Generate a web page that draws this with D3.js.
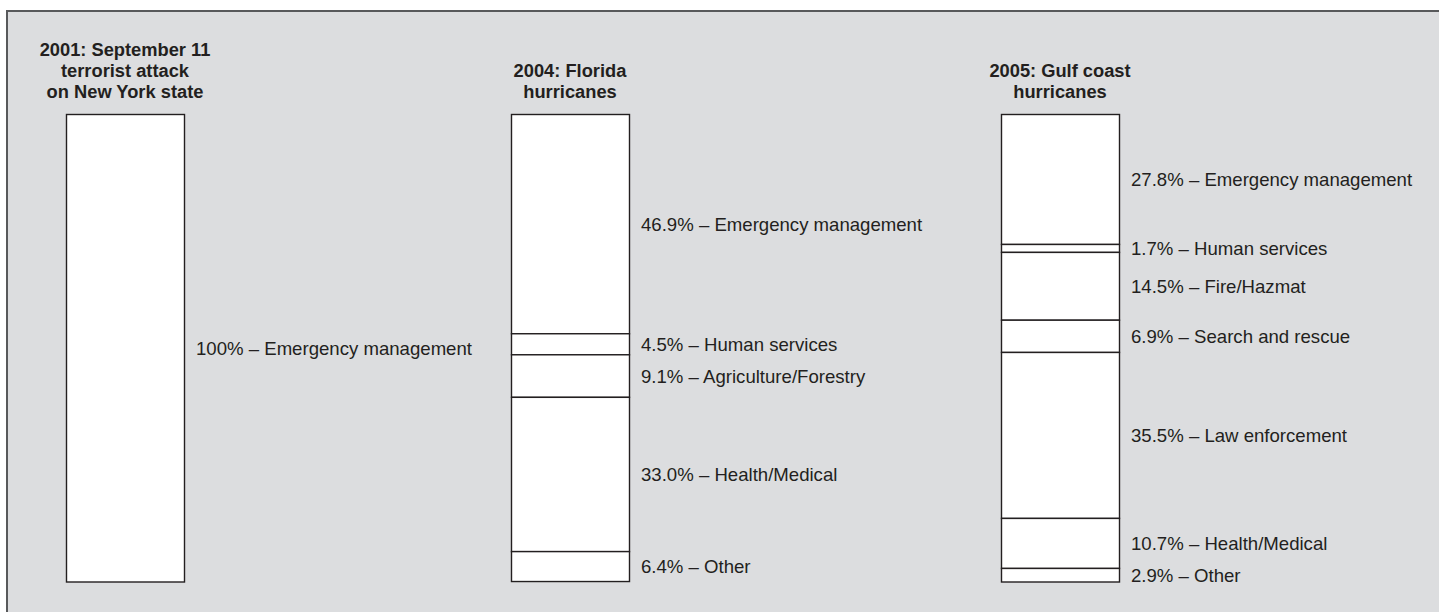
<!DOCTYPE html>
<html lang="en">
    <head>
        <meta charset="UTF-8">
        <script src="https://cdn.jsdelivr.net/npm/d3@7"></script>
        <title>Deployments by function</title>
        <style>
            body { margin: 0; background: #fff; }
            svg text { font-family: "Liberation Sans", Arial, sans-serif; fill: #231f20; }
            .title { font-weight: bold; font-size: 18.3px; }
            .label { font-size: 18.6px; }
        </style>
    </head>
    <body>
        <div id="canvas"></div>

        <script>
            // three events, each one a 100% stacked column
            var events = ['2001', '2004', '2005'];
            var titles = [
                ['2001: September 11', 'terrorist attack', 'on New York state'],
                ['2004: Florida', 'hurricanes'],
                ['2005: Gulf coast', 'hurricanes']
            ];
            var functions2001 = ['Emergency management'];
            var shares2001 = [100];
            var functions2004 = ['Emergency management', 'Human services', 'Agriculture/Forestry', 'Health/Medical', 'Other'];
            var shares2004 = [46.9, 4.5, 9.1, 33.0, 6.4];
            var functions2005 = ['Emergency management', 'Human services', 'Fire/Hazmat', 'Search and rescue', 'Law enforcement', 'Health/Medical', 'Other'];
            var shares2005 = [27.8, 1.7, 14.5, 6.9, 35.5, 10.7, 2.9];
            var shareText2001 = ['100%'];
            var shareText2004 = ['46.9%', '4.5%', '9.1%', '33.0%', '6.4%'];
            var shareText2005 = ['27.8%', '1.7%', '14.5%', '6.9%', '35.5%', '10.7%', '2.9%'];

            var columns = [
                {fn: functions2001, v: shares2001, t: shareText2001},
                {fn: functions2004, v: shares2004, t: shareText2004},
                {fn: functions2005, v: shares2005, t: shareText2005}
            ];

            var W = 1439, H = 612, barW = 118;

            var svg = d3.select('#canvas').append('svg')
                    .attr('width', W)
                    .attr('height', H);

            // grey panel, its right and bottom edges fall outside the picture
            svg.append('rect')
                    .attr('x', 7).attr('y', 11)
                    .attr('width', W + 20).attr('height', H + 20)
                    .attr('fill', '#dcdddf')
                    .attr('stroke', '#58595b')
                    .attr('stroke-width', 2);

            // left edge of each column
            var x = d3.scaleOrdinal()
                    .domain(events)
                    .range([66, 511, 1001]);

            var y = d3.scaleLinear()
                    .domain([0, 100])
                    .range([114.5, 582]);

            events.forEach(function (ev, i) {
                var col = columns[i];
                var g = svg.append('g').attr('transform', 'translate(' + x(ev) + ',0)');

                var acc = 0;
                var segs = col.v.map(function (v, j) {
                    var s = {y0: acc, y1: acc + v, fn: col.fn[j], txt: col.t[j]};
                    acc += v;
                    return s;
                });

                g.selectAll('rect.seg').data(segs).enter().append('rect')
                        .attr('class', 'seg')
                        .attr('x', 0.5)
                        .attr('y', function (d) { return y(d.y0); })
                        .attr('width', barW)
                        .attr('height', function (d) { return y(d.y1) - y(d.y0); })
                        .attr('fill', '#fff')
                        .attr('stroke', '#231f20')
                        .attr('stroke-width', 1.4);

                g.selectAll('text.label').data(segs).enter().append('text')
                        .attr('class', 'label')
                        .attr('x', barW + 12)
                        .attr('y', function (d) { return (y(d.y0) + y(d.y1)) / 2; })
                        .attr('dy', '0.35em')
                        .text(function (d) { return d.txt + ' \u2013 ' + d.fn; });

                // title lines stacked upwards from the bar top
                var lines = titles[i];
                g.selectAll('text.title').data(lines).enter().append('text')
                        .attr('class', 'title')
                        .attr('x', barW / 2)
                        .attr('y', function (d, k) { return 97.5 - (lines.length - 1 - k) * 21; })
                        .attr('text-anchor', 'middle')
                        .text(function (d) { return d; });
            });
        </script>
    </body>
</html>
